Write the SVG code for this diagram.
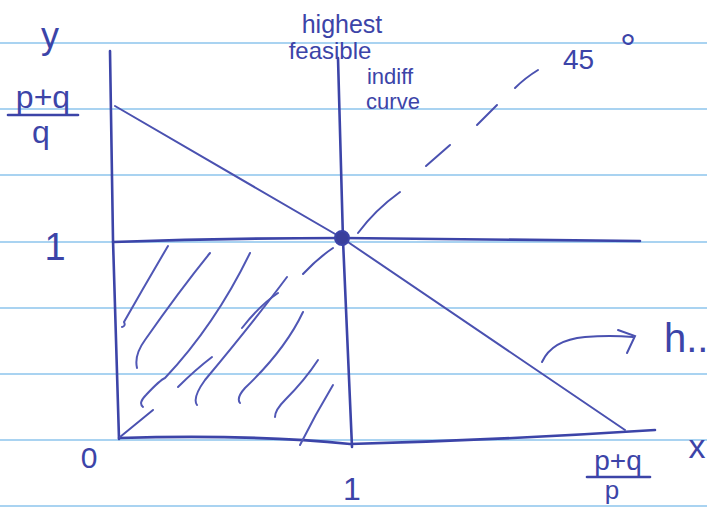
<svg xmlns="http://www.w3.org/2000/svg" width="707" height="508" viewBox="0 0 707 508">
<style>
.rule{stroke:#a9d3f1;stroke-width:2.2;fill:none}
.ink{stroke:#3c44a8;stroke-width:2.6;fill:none;stroke-linecap:round;stroke-linejoin:round}
.thin{stroke:#4a51b0;stroke-width:2;fill:none;stroke-linecap:round}
.hatch{stroke:#5057b5;stroke-width:2;fill:none;stroke-linecap:round}
.t{font-family:"Liberation Sans","DejaVu Sans",sans-serif;fill:#3c44a8}
</style>
<rect width="707" height="508" fill="#ffffff"/>
<g id="paper">
<line class="rule" x1="0" y1="43" x2="707" y2="43"/>
<line class="rule" x1="0" y1="109" x2="707" y2="109"/>
<line class="rule" x1="0" y1="175" x2="707" y2="175"/>
<line class="rule" x1="0" y1="242" x2="707" y2="242"/>
<line class="rule" x1="0" y1="308" x2="707" y2="308"/>
<line class="rule" x1="0" y1="374" x2="707" y2="374"/>
<line class="rule" x1="0" y1="440" x2="707" y2="440"/>
<line class="rule" x1="0" y1="506" x2="707" y2="506"/>
</g>
<g id="axes">
<path class="ink" d="M110 51 L113 240 L119 439"/>
<path class="ink" d="M119 438 Q250 434 350 444 Q500 440 655 430"/>
</g>
<g id="lines">
<path class="ink" d="M338 58 Q338 60 343 240 L352 447"/>
<path class="ink" d="M113 242 Q230 238 343 238 Q500 240 640 241"/>
<path class="thin" d="M115 106 L342 238 L625 430"/>
<path class="thin" d="M303 274 Q318 258 333 248"/>
<path class="thin" d="M358 233 Q375 210 400 192"/>
</g>
<g id="fortyfive">
<path class="thin" d="M120 437 L153 410"/>
<path class="thin" d="M426 166 L450 145"/>
<path class="thin" d="M477 125 L497 105"/>
<path class="thin" d="M515 88 Q525 78 538 70"/>
<text class="t" x="563" y="69" font-size="28">45</text>
<text class="t" x="620" y="62" font-size="40">°</text>
</g>
<g id="hatching">
<path class="hatch" d="M122 327 Q126 326 124 322 Q145 285 168 246"/>
<path class="hatch" d="M137 368 Q134 355 145 340 Q180 290 210 253"/>
<path class="hatch" d="M143 407 Q138 403 146 395 Q160 380 165 378 Q215 325 250 253"/>
<path class="hatch" d="M178 387 Q195 370 212 357"/>
<path class="hatch" d="M197 405 Q192 398 205 380 Q255 320 287 277"/>
<path class="hatch" d="M242 328 Q260 305 278 293"/>
<path class="hatch" d="M240 403 Q236 398 245 388 Q285 350 303 312"/>
<path class="hatch" d="M275 417 Q275 410 285 400 Q305 380 318 360"/>
<path class="hatch" d="M300 445 Q315 415 333 385"/>
</g>
<g id="point">
<circle cx="342" cy="238" r="7" fill="#3a3f9c" stroke="#3c44a8" stroke-width="2"/>
</g>
<g id="arrow">
<path class="thin" d="M542 362 Q552 340 585 337 Q610 335 633 337"/>
<path class="thin" d="M618 330 L635 336 L627 353"/>
</g>
<g id="labels">
<text class="t" x="50" y="48" font-size="36" text-anchor="middle">y</text>
<text class="t" x="43" y="108" font-size="32" text-anchor="middle">p+q</text>
<line class="ink" x1="8" y1="115" x2="78" y2="115"/>
<text class="t" x="41" y="143" font-size="32" text-anchor="middle">q</text>
<text class="t" x="55" y="260" font-size="38" text-anchor="middle">1</text>
<text class="t" x="89" y="468" font-size="30" text-anchor="middle">0</text>
<text class="t" x="352" y="500" font-size="32" text-anchor="middle">1</text>
<text class="t" x="618" y="470" font-size="28" text-anchor="middle">p+q</text>
<line class="ink" x1="587" y1="477" x2="650" y2="477"/>
<text class="t" x="612" y="499" font-size="26" text-anchor="middle">p</text>
<text class="t" x="697" y="458" font-size="34" text-anchor="middle">x</text>
<text class="t" x="664" y="352" font-size="40">h..</text>
<text class="t" x="342" y="33" font-size="25" text-anchor="middle">highest</text>
<text class="t" x="330" y="59" font-size="24" text-anchor="middle">feasible</text>
<text class="t" x="390" y="84" font-size="22" text-anchor="middle">indiff</text>
<text class="t" x="393" y="109" font-size="22" text-anchor="middle">curve</text>
</g>
</svg>
